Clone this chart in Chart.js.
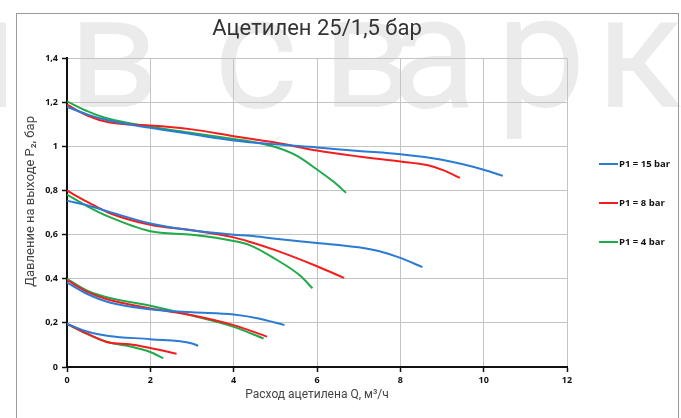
<!DOCTYPE html>
<html>
<head>
<meta charset="utf-8">
<script src="https://cdn.jsdelivr.net/npm/chart.js@4.4.0/dist/chart.umd.min.js"></script>
<style>
html, body { margin: 0; padding: 0; background: #fff; }
#wrap { width: 681px; height: 418px; position: relative; }
</style>
</head>
<body>
<div id="wrap"><canvas id="pressureChart"></canvas></div>
<script>
// axis ticks
const xTicks = [0, 2, 4, 6, 8, 10, 12];
const yTicks = [0, 0.2, 0.4, 0.6, 0.8, 1, 1.2, 1.4];

// P1 = 15 bar (blue), [Q, P2]
const blue12 = [[0,1.18],[0.5,1.145],[1,1.118],[2,1.085],[3,1.056],[4,1.028],[5,1.01],[6,0.996],[7,0.98],[8,0.965],[9,0.94],[10,0.895],[10.46,0.867]];
const blue08 = [[0,0.754],[0.5,0.733],[1,0.705],[2,0.651],[3,0.62],[4,0.6],[4.4,0.595],[5,0.582],[6,0.563],[7,0.543],[7.5,0.525],[8,0.495],[8.53,0.453]];
const blue04 = [[0,0.383],[0.5,0.33],[1,0.294],[2,0.262],[3,0.248],[4,0.238],[4.6,0.22],[5.22,0.19]];
const blue02 = [[0,0.196],[0.5,0.16],[1,0.141],[2,0.126],[3,0.107],[3.15,0.096]];

// P1 = 8 bar (red)
const red12 = [[0,1.19],[0.5,1.14],[1,1.11],[1.5,1.1],[2,1.096],[3,1.078],[4,1.047],[5,1.018],[6,0.982],[7,0.955],[8,0.932],[8.64,0.916],[9.04,0.892],[9.43,0.858]];
const red08 = [[0,0.8],[0.5,0.748],[1,0.7],[2,0.645],[3,0.62],[4,0.588],[4.4,0.567],[5,0.53],[6,0.457],[6.65,0.404]];
const red04 = [[0,0.394],[0.5,0.34],[1,0.305],[2,0.266],[3,0.235],[4,0.19],[4.8,0.138]];
const red02 = [[0,0.196],[0.5,0.15],[1,0.111],[1.5,0.103],[2,0.086],[2.63,0.06]];

// P1 = 4 bar (green)
const green12 = [[0,1.205],[0.5,1.16],[1,1.126],[2,1.09],[3,1.062],[4,1.034],[4.5,1.02],[5,0.998],[5.5,0.96],[6,0.896],[6.4,0.84],[6.7,0.79]];
const green08 = [[0,0.782],[0.5,0.728],[1,0.682],[2,0.616],[3,0.6],[4,0.572],[4.4,0.552],[5,0.49],[5.6,0.414],[5.89,0.357]];
const green04 = [[0,0.4],[0.5,0.345],[1,0.314],[2,0.278],[3,0.233],[4,0.182],[4.72,0.129]];
const green02 = [[0,0.196],[0.5,0.148],[1,0.112],[1.5,0.094],[2,0.068],[2.31,0.04]];

const seriesNames = ['P1 = 15 bar', 'P1 = 8 bar', 'P1 = 4 bar'];
const seriesColors = ['#2a7bd4', '#f41c1c', '#1faa4a'];
const seriesCurves = [
    [blue12, blue08, blue04, blue02],
    [red12, red08, red04, red02],
    [green12, green08, green04, green02]
];

const datasets = [];
seriesCurves.forEach((curves, i) => {
    curves.forEach(curve => {
        datasets.push({
            label: seriesNames[i],
            data: curve,
            borderColor: seriesColors[i],
            backgroundColor: seriesColors[i],
            borderWidth: 2,
            pointRadius: 0,
            fill: false,
            cubicInterpolationMode: 'monotone'
        });
    });
});

// background watermark + frame
const backdrop = {
    id: 'backdrop',
    beforeDraw(chart) {
        const c = chart.ctx;
        c.save();
        c.fillStyle = '#fff';
        c.fillRect(0, 0, chart.width, chart.height);
        c.fillStyle = '#ebebeb';
        c.font = '160px Roboto';
        c.textBaseline = 'alphabetic';
        c.textAlign = 'right';
        c.fillText('и', 18, 107);
        c.textAlign = 'left';
        // letter by letter, spaced like the original mark
        [['в', 68], ['с', 214], ['в', 322], ['а', 390], ['р', 496], ['к', 596]].forEach(([ch, x]) => {
            c.fillText(ch, x, 107);
        });
        c.restore();
        c.save();
        c.strokeStyle = '#9a9a9a';
        c.lineWidth = 1;
        c.strokeRect(16.5, 13.5, 662, 420);
        c.restore();
    }
};

// legend on the right side
const sideLegend = {
    id: 'sideLegend',
    afterDraw(chart) {
        const c = chart.ctx;
        const rows = [164, 203, 242];
        c.save();
        c.font = 'bold 9.5px "Open Sans"';
        c.textBaseline = 'middle';
        c.fillStyle = '#111';
        seriesNames.forEach((name, i) => {
            c.strokeStyle = seriesColors[i];
            c.lineWidth = 2;
            c.beginPath();
            c.moveTo(599, rows[i]);
            c.lineTo(618, rows[i]);
            c.stroke();
            c.fillText(name, 619, rows[i] + 0.5);
        });
        c.restore();
    }
};

const ctx = document.getElementById('pressureChart').getContext('2d');
const pressureChart = new Chart(ctx, {
    type: 'line',
    data: { datasets: datasets },
    plugins: [backdrop, sideLegend],
    options: {
        responsive: true,
        maintainAspectRatio: false,
        animation: false,
        layout: {
            padding: { left: 20, right: 114, top: 13, bottom: 10 }
        },
        plugins: {
            legend: { display: false },
            tooltip: { enabled: false },
            title: {
                display: true,
                fullSize: false,
                text: 'Ацетилен 25/1,5 бар',
                color: '#333',
                font: { family: 'Roboto', size: 22, weight: 'normal' },
                padding: { top: 3, bottom: 16 }
            }
        },
        scales: {
            x: {
                type: 'linear',
                min: 0,
                max: 12,
                afterBuildTicks(scale) {
                    scale.ticks = xTicks.map(v => ({ value: v }));
                },
                afterFit(scale) { scale.height = 41; },
                border: { color: '#111', width: 2 },
                grid: { color: '#c4c4c4', lineWidth: 1, tickColor: '#111', tickLength: 5, tickWidth: 1.5 },
                ticks: {
                    color: '#111',
                    padding: 3,
                    font: { family: 'Open Sans', size: 9, weight: 'bold' }
                },
                title: {
                    display: true,
                    text: 'Расход ацетилена Q, м³/ч',
                    color: '#444',
                    font: { family: 'Roboto', size: 12 },
                    padding: { top: 0, bottom: 6 }
                }
            },
            y: {
                type: 'linear',
                min: 0,
                max: 1.4,
                afterBuildTicks(scale) {
                    scale.ticks = yTicks.map(v => ({ value: v }));
                },
                afterFit(scale) { scale.width = 47; },
                border: { color: '#111', width: 2 },
                grid: { color: '#c4c4c4', lineWidth: 1, tickColor: '#111', tickLength: 5, tickWidth: 1.5 },
                ticks: {
                    color: '#111',
                    padding: 4,
                    font: { family: 'Open Sans', size: 9, weight: 'bold' },
                    callback: v => String(Math.round(v * 10) / 10).replace('.', ',')
                },
                title: {
                    display: true,
                    // leading spaces nudge the label up a little, as in the original
                    text: '       Давление на выходе P₂, бар',
                    color: '#444',
                    font: { family: 'Roboto', size: 13 },
                    padding: { top: 3, bottom: 0 }
                }
            }
        }
    }
});
</script>
</body>
</html>
